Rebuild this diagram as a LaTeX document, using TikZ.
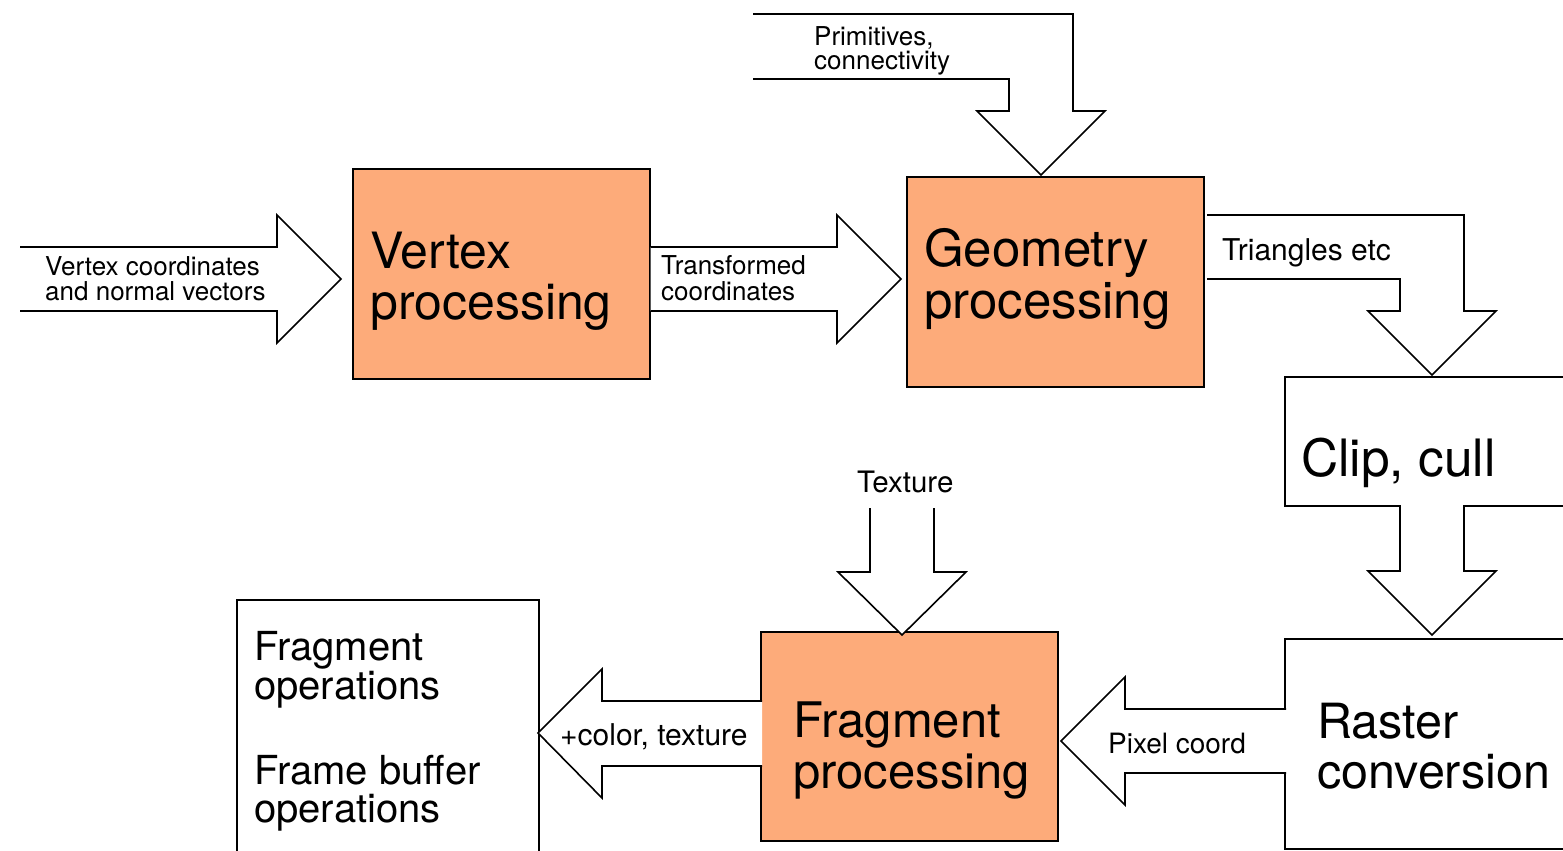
\documentclass[tikz,border=0pt]{standalone}
\usepackage{fontspec}
\setmainfont{TeX Gyre Heros}
\definecolor{procorange}{RGB}{253,171,122}
\tikzset{
  box/.style={draw=black, line width=1.6pt, anchor=north west, inner sep=0pt},
  procbox/.style={box, fill=procorange},
  plainbox/.style={box, fill=white},
  blockarrow/.style={draw=black, fill=white, line width=1.6pt, line join=miter},
  lbl/.style={anchor=base west, inner sep=0pt, align=left},
  bigtxt/.style={lbl, font=\fontsize{50}{51}\selectfont},
}
\begin{document}
\begin{tikzpicture}[x=1pt,y=-1pt]
\useasboundingbox (0,0) rectangle (1563,851);
% boxes
\node[procbox, minimum width=297pt, minimum height=210pt] (vbox) at (352,168) {};
\node[procbox, minimum width=297pt, minimum height=210pt] (gbox) at (906,176) {};
\node[plainbox, minimum width=290pt, minimum height=129pt] (cbox) at (1284,376) {};
\node[plainbox, minimum width=290pt, minimum height=210pt] (rbox) at (1284,638) {};
\node[procbox, minimum width=297pt, minimum height=209pt] (fbox) at (760,631) {};
\node[plainbox, minimum width=302pt, minimum height=270pt] (obox) at (236,599) {};
% named tips
\coordinate (vtip) at (341,279);
\coordinate (gtip2) at (901,279);
\coordinate (gtip) at (1041,175);
\coordinate (ctip) at (1432,375);
\coordinate (rtip) at (1432,635);
\coordinate (ftip) at (902,635);
\coordinate (ftip2) at (1061,741);
\coordinate (otip) at (538,733);
% block arrows
\draw[blockarrow] (20,247) -- (277,247) -- (277,215) -- (vtip) -- (277,343) -- (277,311) -- (20,311);
\draw[blockarrow] (vbox.east |- 0,247) -- (837,247) -- (837,215) -- (gtip2) -- (837,343) -- (837,311) -- (vbox.east |- 0,311);
\draw[blockarrow] (753,14) -- (1073,14) -- (1073,111) -- (1105,111) -- (gtip) -- (977,111) -- (1009,111) -- (1009,79) -- (753,79);
\draw[blockarrow] (1207,215) -- (1464,215) -- (1464,311) -- (1496,311) -- (ctip) -- (1368,311) -- (1400,311) -- (1400,279) -- (1207,279);
\draw[blockarrow] (1400,505) -- (1400,571) -- (1368,571) -- (rtip) -- (1496,571) -- (1464,571) -- (1464,505);
\draw[blockarrow] (1286,709) -- (1125,709) -- (1125,677) -- (ftip2) -- (1125,805) -- (1125,773) -- (1286,773);
\draw[blockarrow] (870,508) -- (870,572) -- (838,572) -- (ftip) -- (966,572) -- (934,572) -- (934,508);
\draw[blockarrow] (762,701) -- (602,701) -- (602,669) -- (otip) -- (602,798) -- (602,766) -- (762,766);
% texts
\node[bigtxt] (vtxt) at (370,319) {Vertex\\processing};
\node[bigtxt, font=\fontsize{51}{52}\selectfont] (gtxt) at (924,318) {Geometry\\processing};
\node[lbl, font=\fontsize{51.5}{52}\selectfont] (ctxt) at (1301,476) {Clip, cull};
\node[lbl, font=\fontsize{48.5}{50}\selectfont] (rtxt) at (1317,788) {Raster\\conversion};
\node[lbl, font=\fontsize{49}{51}\selectfont] (ftxt) at (793,788) {Fragment\\processing};
\node[lbl, font=\fontsize{40}{39}\selectfont] (otxt1) at (254,699) {Fragment\\operations};
\node[lbl, font=\fontsize{40}{38}\selectfont] (otxt2) at (254,822) {Frame buffer\\operations};
\node[lbl, font=\fontsize{26}{25}\selectfont] (intxt) at (45,300) {Vertex coordinates\\and normal vectors};
\node[lbl, font=\fontsize{26}{26}\selectfont] (trtxt) at (661,300) {Transformed\\coordinates};
\node[lbl, font=\fontsize{26}{24}\selectfont] (prtxt) at (814,70) {Primitives,\\connectivity};
\node[lbl, font=\fontsize{30}{30}\selectfont] (tritxt) at (1222,260) {Triangles etc};
\node[lbl, font=\fontsize{29.5}{30}\selectfont] (textxt) at (857,492) {Texture};
\node[lbl, font=\fontsize{28}{28}\selectfont] (pxtxt) at (1108,753) {Pixel coord};
\node[lbl, font=\fontsize{30}{30}\selectfont] (coltxt) at (560,745) {+color, texture};
\end{tikzpicture}
\end{document}
